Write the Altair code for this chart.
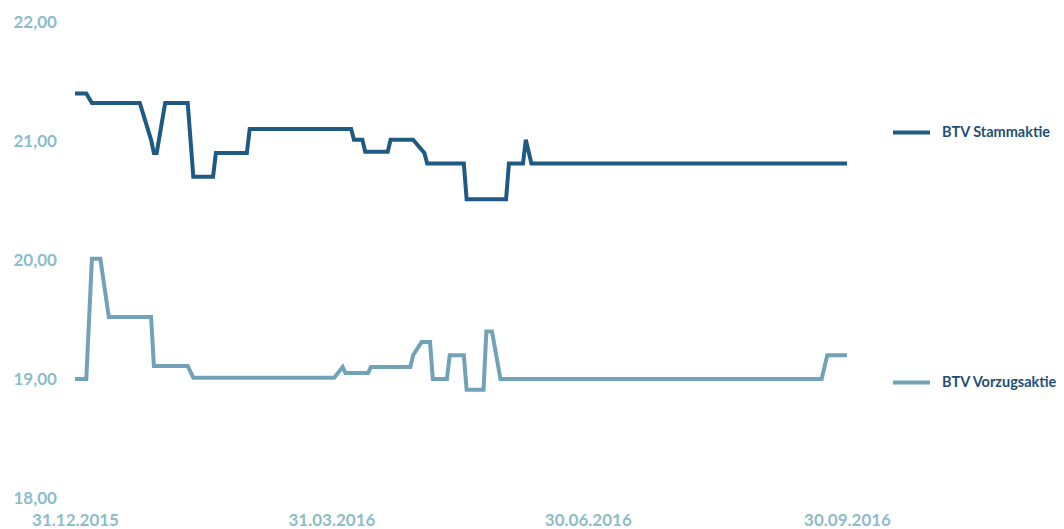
import altair as alt
import pandas as pd

# ---- data ----
stamm_dates = ["2015-12-31", "2016-01-04", "2016-01-06", "2016-01-23", "2016-01-27",
               "2016-01-28", "2016-01-29", "2016-02-01", "2016-02-09", "2016-02-11",
               "2016-02-18", "2016-02-19", "2016-03-01", "2016-03-02", "2016-04-07",
               "2016-04-08", "2016-04-11", "2016-04-12", "2016-04-20", "2016-04-21",
               "2016-04-29", "2016-05-03", "2016-05-04", "2016-05-17", "2016-05-18",
               "2016-06-01", "2016-06-02", "2016-06-07", "2016-06-08", "2016-06-10",
               "2016-09-30"]
stamm_values = [21.40, 21.40, 21.32, 21.32, 21.01,
                20.90, 20.90, 21.32, 21.32, 20.70,
                20.70, 20.90, 20.90, 21.10, 21.10,
                21.01, 21.01, 20.91, 20.91, 21.01,
                21.01, 20.90, 20.81, 20.81, 20.51,
                20.51, 20.81, 20.81, 21.01, 20.81,
                20.81]

vorzug_dates = ["2015-12-31", "2016-01-04", "2016-01-06", "2016-01-09", "2016-01-12",
                "2016-01-27", "2016-01-28", "2016-02-09", "2016-02-11", "2016-04-01",
                "2016-04-04", "2016-04-05", "2016-04-13", "2016-04-14", "2016-04-28",
                "2016-04-29", "2016-05-02", "2016-05-05", "2016-05-06", "2016-05-11",
                "2016-05-12", "2016-05-17", "2016-05-18", "2016-05-24", "2016-05-25",
                "2016-05-27", "2016-05-30", "2016-09-21", "2016-09-23", "2016-09-30"]
vorzug_values = [19.00, 19.00, 20.01, 20.01, 19.52,
                 19.52, 19.11, 19.11, 19.01, 19.01,
                 19.10, 19.05, 19.05, 19.10, 19.10,
                 19.20, 19.31, 19.31, 19.00, 19.00,
                 19.20, 19.20, 18.91, 18.91, 19.40,
                 19.40, 19.00, 19.00, 19.20, 19.20]

series_names = ["BTV Stammaktie", "BTV Vorzugsaktie"]
series_colors = ["#1f5a82", "#72a2b8"]
y_ticks = [18, 19, 20, 21, 22]
x_ticks = [(2015, 12, 31), (2016, 3, 31), (2016, 6, 30), (2016, 9, 30)]

df = pd.concat([
    pd.DataFrame({"date": stamm_dates, "value": stamm_values, "series": series_names[0]}),
    pd.DataFrame({"date": vorzug_dates, "value": vorzug_values, "series": series_names[1]}),
], ignore_index=True)

FONT = "Lato"
AXIS_COLOR = "#8dbccb"

x_axis = alt.Axis(
    values=[alt.DateTime(year=y, month=m, date=d, utc=True) for y, m, d in x_ticks],
    labelExpr="utcFormat(datum.value, '%d.%m.%Y')",
    title=None, domain=False, ticks=False, tickSize=0, grid=False,
    labelFont=FONT, labelFontSize=17, labelFontWeight="bold", labelColor=AXIS_COLOR,
    labelPadding=14, labelFlush=False, labelOverlap=False, labelBound=False,
)
y_axis = alt.Axis(
    values=y_ticks,
    labelExpr="replace(format(datum.value, '.2f'), '.', ',')",
    title=None, domain=False, ticks=False, tickSize=0, grid=False,
    labelFont=FONT, labelFontSize=17, labelFontWeight="bold", labelColor=AXIS_COLOR,
    labelAlign="left", labelBaseline="middle", labelPadding=62,
)

legend = alt.Legend(
    title=None, orient="none", legendX=816, legendY=90, padding=0,
    symbolType="stroke", symbolSize=1369, symbolStrokeWidth=4,
    labelFont=FONT, labelFontSize=14.5, labelFontWeight="bold", labelColor="#1f4f74",
    labelOffset=10, rowPadding=221, labelLimit=200,
)

chart = alt.Chart(df).mark_line(strokeWidth=4, strokeJoin="miter").encode(
    x=alt.X("date:T", axis=x_axis,
            scale=alt.Scale(type="utc",
                            domain=[alt.DateTime(year=2015, month=12, date=31, utc=True),
                                    alt.DateTime(year=2016, month=9, date=30, utc=True)])),
    y=alt.Y("value:Q", axis=y_axis, scale=alt.Scale(domain=[18, 22], nice=False, zero=False)),
    color=alt.Color("series:N", legend=legend,
                    scale=alt.Scale(domain=series_names, range=series_colors),
                    sort=series_names),
).properties(
    width=772, height=476,
    background="white",
    autosize=alt.AutoSizeParams(type="none"),
    padding={"left": 67, "top": 14, "right": 209, "bottom": 31},
).configure_view(strokeOpacity=0, strokeWidth=0)

chart.save("out.html", embed_options={"renderer": "svg", "actions": False})
